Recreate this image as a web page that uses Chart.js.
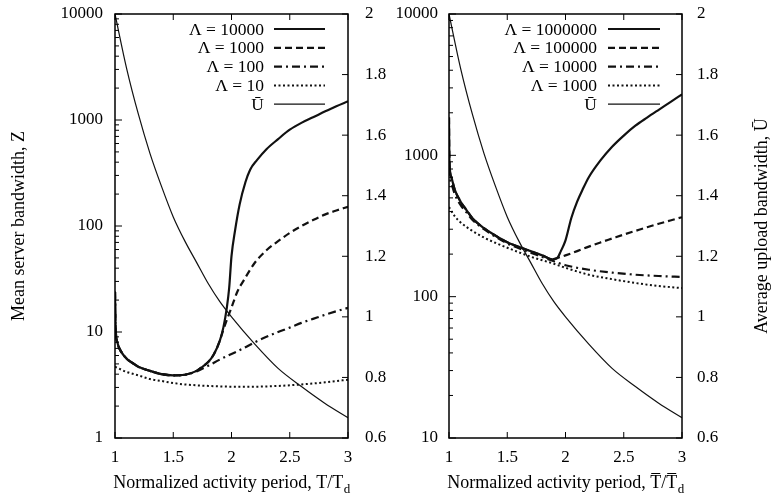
<!DOCTYPE html>
<html><head><meta charset="utf-8">
<script src="https://cdn.jsdelivr.net/npm/chart.js@4"></script>
<style>
html,body{margin:0;padding:0;background:#fff;}
#wrap{position:relative;width:772px;height:497px;overflow:hidden;}
canvas{position:absolute;top:0;}
</style></head>
<body><div id="wrap">
<canvas id="c1" width="400" height="497" style="left:0;width:400px;height:497px"></canvas>
<canvas id="c2" width="386" height="497" style="left:386px;width:386px;height:497px"></canvas>
</div>
<script>
// ---------- tick data ----------
const xTickValues = [1, 1.5, 2, 2.5, 3];
const leftDecades = [1, 10, 100, 1000, 10000];
const rightDecades = [10, 100, 1000, 10000];
const uTickValues = [0.6, 0.8, 1, 1.2, 1.4, 1.6, 1.8, 2];

// ---------- U-bar (average upload bandwidth), same in both panels ----------
const uBarX = [1, 1.1, 1.2, 1.3, 1.4, 1.5, 1.6, 1.7, 1.8, 1.9, 2.0, 2.2, 2.4, 2.6, 2.8, 3.0];
const uBar  = [2.0, 1.82, 1.67, 1.54, 1.43, 1.33, 1.25, 1.18, 1.11, 1.05, 1.0, 0.91, 0.83, 0.77, 0.715, 0.667];

// ---------- left panel: Z ----------
const leftLabels = ["Λ = 10000", "Λ = 1000", "Λ = 100", "Λ = 10"];
const lA_x = [1.0, 1.004, 1.02, 1.05, 1.1, 1.15, 1.2, 1.3, 1.4, 1.5, 1.6, 1.7, 1.75, 1.8, 1.85, 1.9, 1.93, 1.96, 1.98, 2.0, 2.03, 2.07, 2.12, 2.16, 2.22, 2.3, 2.4, 2.5, 2.6, 2.7, 2.8, 2.9, 3.0];
const lA_z = [24, 12, 8.0, 6.6, 5.6, 5.1, 4.7, 4.3, 4.0, 3.9, 3.95, 4.3, 4.7, 5.2, 6.2, 8.3, 11, 17, 26, 52, 90, 160, 260, 340, 420, 530, 660, 810, 940, 1060, 1200, 1350, 1500];
const lB_x = [1.0, 1.004, 1.02, 1.05, 1.1, 1.15, 1.2, 1.3, 1.4, 1.5, 1.6, 1.7, 1.75, 1.8, 1.85, 1.9, 1.93, 1.96, 2.0, 2.05, 2.1, 2.2, 2.3, 2.4, 2.5, 2.6, 2.7, 2.8, 2.9, 3.0];
const lB_z = [24, 12, 8.0, 6.6, 5.6, 5.1, 4.7, 4.3, 4.0, 3.9, 3.95, 4.3, 4.7, 5.2, 6.2, 8.3, 10.5, 13, 17, 24, 30, 45, 59, 72, 86, 100, 114, 128, 140, 152];
const lC_x = [1.0, 1.004, 1.02, 1.05, 1.1, 1.15, 1.2, 1.3, 1.4, 1.5, 1.6, 1.7, 1.8, 1.9, 2.0, 2.1, 2.2, 2.3, 2.4, 2.5, 2.6, 2.7, 2.8, 2.9, 3.0];
const lC_z = [24, 12, 8.0, 6.6, 5.6, 5.1, 4.7, 4.3, 4.0, 3.9, 3.95, 4.25, 4.8, 5.5, 6.2, 7.0, 8.0, 9.0, 10.0, 11.0, 12.2, 13.3, 14.5, 15.7, 16.9];
const lD_x = [1.0, 1.1, 1.2, 1.3, 1.4, 1.5, 1.6, 1.8, 2.0, 2.2, 2.4, 2.6, 2.8, 3.0];
const lD_z = [4.7, 4.2, 3.9, 3.6, 3.45, 3.3, 3.2, 3.1, 3.05, 3.05, 3.1, 3.2, 3.35, 3.55];

// ---------- right panel: Z ----------
const rightLabels = ["Λ = 1000000", "Λ = 100000", "Λ = 10000", "Λ = 1000"];
const rA_x = [1.0, 1.003, 1.02, 1.05, 1.1, 1.15, 1.2, 1.3, 1.4, 1.5, 1.6, 1.7, 1.8, 1.89, 1.93, 1.96, 2.0, 2.05, 2.1, 2.15, 2.2, 2.3, 2.4, 2.5, 2.6, 2.7, 2.8, 2.9, 3.0];
const rA_z = [1850, 950, 700, 570, 470, 410, 360, 305, 270, 243, 225, 210, 196, 184, 188, 210, 250, 360, 470, 580, 700, 920, 1150, 1380, 1620, 1850, 2100, 2380, 2700];
const rB_x = [1.0, 1.003, 1.02, 1.05, 1.1, 1.15, 1.2, 1.3, 1.4, 1.5, 1.6, 1.7, 1.8, 1.89, 1.95, 2.0, 2.1, 2.2, 2.3, 2.4, 2.5, 2.6, 2.7, 2.8, 2.9, 3.0];
const rB_z = [1850, 950, 700, 570, 470, 410, 360, 305, 270, 243, 225, 210, 196, 184, 190, 196, 210, 226, 242, 258, 275, 292, 310, 328, 346, 365];
const rC_x = [1.0, 1.003, 1.02, 1.05, 1.1, 1.15, 1.2, 1.3, 1.4, 1.5, 1.6, 1.7, 1.8, 1.9, 2.0, 2.2, 2.4, 2.6, 2.8, 3.0];
const rC_z = [1100, 800, 640, 530, 445, 395, 350, 300, 265, 238, 220, 205, 191, 178, 167, 155, 148, 143, 140, 138];
const rD_x = [1.0, 1.05, 1.1, 1.2, 1.3, 1.4, 1.5, 1.6, 1.7, 1.8, 1.9, 2.0, 2.2, 2.4, 2.6, 2.8, 3.0];
const rD_z = [430, 370, 335, 292, 262, 240, 222, 206, 192, 181, 171, 160, 143, 133, 125, 119, 115];

// ---------- helpers ----------
const FONT = '"Liberation Serif", "Times New Roman", serif';
const pts = (xs, ys) => xs.map((x, i) => ({x, y: ys[i]}));
function logTicks(decs) {
  const out = [];
  for (let i = 0; i < decs.length; i++) {
    out.push({value: decs[i]});
    if (i < decs.length - 1) for (let m = 2; m <= 9; m++) out.push({value: decs[i] * m});
  }
  return out;
}
const styles = [
  {borderWidth: 2.2, borderDash: []},
  {borderWidth: 2.2, borderDash: [7, 4]},
  {borderWidth: 2.2, borderDash: [8, 4, 2, 4]},
  {borderWidth: 2.0, borderDash: [2, 2.5]},
  {borderWidth: 1.2, borderDash: []}
];
function ds(label, data, st, axis) {
  return {label, data, borderColor: '#111', backgroundColor: '#111', borderWidth: st.borderWidth,
    borderDash: st.borderDash, pointRadius: 0, fill: false, cubicInterpolationMode: 'monotone', yAxisID: axis};
}
function zeroPad(s) { s.paddingTop = 0; s.paddingBottom = 0; s.paddingLeft = 0; s.paddingRight = 0; }

const deco = {
  id: 'deco',
  afterDatasetsDraw(chart, args, o) {
    const {ctx, chartArea: a, scales} = chart;
    ctx.save();
    ctx.strokeStyle = '#000';
    ctx.lineWidth = 1;
    const ln = (x1, y1, x2, y2) => { ctx.beginPath(); ctx.moveTo(x1, y1); ctx.lineTo(x2, y2); ctx.stroke(); };
    scales.x.ticks.forEach(t => { const p = scales.x.getPixelForValue(t.value); ln(p, a.bottom, p, a.bottom - 6); ln(p, a.top, p, a.top + 6); });
    scales.y.ticks.forEach(t => { const p = scales.y.getPixelForValue(t.value); const maj = o.decades.includes(t.value); ln(a.left, p, a.left + (maj ? 7 : 4), p); });
    scales.yU.ticks.forEach(t => { const p = scales.yU.getPixelForValue(t.value); ln(a.right, p, a.right - 6, p); });
    ctx.lineWidth = 1.5;
    ctx.strokeRect(a.left, a.top, a.right - a.left, a.bottom - a.top);

    // legend
    ctx.fillStyle = '#000';
    ctx.font = '17.5px ' + FONT;
    ctx.textAlign = 'right';
    ctx.textBaseline = 'middle';
    chart.data.datasets.forEach((d, i) => {
      const y = o.legY0 + i * o.legDy;
      ctx.fillText(d.label, o.legText, y + 1);
      ctx.save();
      ctx.strokeStyle = '#111';
      ctx.lineWidth = d.borderWidth;
      ctx.setLineDash(d.borderDash);
      ln(o.legX1, y, o.legX2, y);
      ctx.restore();
    });

    // x title with subscript
    const cx = (a.left + a.right) / 2;
    const main = 'Normalized activity period, T/T';
    ctx.font = '18px ' + FONT;
    const wMain = ctx.measureText(main).width;
    const wPre = ctx.measureText('Normalized activity period, ').width;
    const wT = ctx.measureText('T').width;
    const wS = ctx.measureText('/').width;
    ctx.font = '13px ' + FONT;
    const wSub = ctx.measureText('d').width;
    const x0 = cx - (wMain + wSub) / 2;
    const base = 488;
    ctx.textAlign = 'left';
    ctx.textBaseline = 'alphabetic';
    ctx.font = '18px ' + FONT;
    ctx.fillText(main, x0, base);
    ctx.font = '13px ' + FONT;
    ctx.fillText('d', x0 + wMain + 0.5, base + 5);
    if (o.overline) {
      ctx.lineWidth = 1;
      const oy = base - 14.5;
      ln(x0 + wPre + 1, oy, x0 + wPre + wT - 1, oy);
      ln(x0 + wPre + wT + wS + 1, oy, x0 + wPre + 2 * wT + wS - 1, oy);
    }

    // y title (rotated)
    ctx.save();
    ctx.translate(o.yTitleX, (a.top + a.bottom) / 2);
    ctx.rotate(-Math.PI / 2);
    ctx.font = '18px ' + FONT;
    ctx.textAlign = 'center';
    ctx.textBaseline = 'middle';
    ctx.fillText(o.yTitle, 0, 0);
    ctx.restore();
    ctx.restore();
  }
};

function makeChart(id, sets, decades, yMin, yMax, leftW, rightW, leftPad, rightPad, decoOpts) {
  const tickFont = {family: FONT, size: 17};
  return new Chart(document.getElementById(id), {
    type: 'line',
    data: {datasets: sets},
    plugins: [deco],
    options: {
      responsive: false, animation: false, devicePixelRatio: 1,
      layout: {padding: {top: 14, left: 0, right: 0, bottom: 0}},
      plugins: {legend: {display: false}, tooltip: {enabled: false}, deco: decoOpts},
      scales: {
        x: {type: 'linear', min: 1, max: 3,
          afterBuildTicks: s => { s.ticks = xTickValues.map(v => ({value: v})); },
          afterFit: s => { s.height = 59; zeroPad(s); },
          ticks: {font: tickFont, color: '#000', padding: 9, maxRotation: 0, autoSkip: false, callback: v => String(v)},
          grid: {display: false, drawTicks: false}, border: {display: false}},
        y: {type: 'logarithmic', position: 'left', min: yMin, max: yMax,
          afterBuildTicks: s => { s.ticks = logTicks(decades); },
          afterFit: s => { s.width = leftW; zeroPad(s); },
          ticks: {font: tickFont, color: '#000', padding: leftPad, autoSkip: false, callback: v => decades.includes(v) ? String(v) : ''},
          grid: {display: false, drawTicks: false}, border: {display: false}},
        yU: {type: 'linear', position: 'right', min: 0.6, max: 2,
          afterBuildTicks: s => { s.ticks = uTickValues.map(v => ({value: v})); },
          afterFit: s => { s.width = rightW; zeroPad(s); },
          ticks: {font: tickFont, color: '#000', padding: rightPad, autoSkip: false, callback: v => String(Number(v.toFixed(1)))},
          grid: {display: false, drawTicks: false}, border: {display: false}}
      }
    }
  });
}

const leftSets = [
  ds(leftLabels[0], pts(lA_x, lA_z), styles[0], 'y'),
  ds(leftLabels[1], pts(lB_x, lB_z), styles[1], 'y'),
  ds(leftLabels[2], pts(lC_x, lC_z), styles[2], 'y'),
  ds(leftLabels[3], pts(lD_x, lD_z), styles[3], 'y'),
  ds('Ū', pts(uBarX, uBar), styles[4], 'yU')
];
const rightSets = [
  ds(rightLabels[0], pts(rA_x, rA_z), styles[0], 'y'),
  ds(rightLabels[1], pts(rB_x, rB_z), styles[1], 'y'),
  ds(rightLabels[2], pts(rC_x, rC_z), styles[2], 'y'),
  ds(rightLabels[3], pts(rD_x, rD_z), styles[3], 'y'),
  ds('Ū', pts(uBarX, uBar), styles[4], 'yU')
];

makeChart('c1', leftSets, leftDecades, 1, 10000, 115, 52, 12, 17,
  {decades: leftDecades, legText: 264, legX1: 274, legX2: 325, legY0: 29, legDy: 18.8,
   overline: false, yTitle: 'Mean server bandwidth, Z', yTitleX: 19});
makeChart('c2', rightSets, rightDecades, 10, 10000, 63, 90, 11, 15,
  {decades: rightDecades, legText: 597 - 386, legX1: 608 - 386, legX2: 660 - 386, legY0: 29, legDy: 18.8,
   overline: true, yTitle: 'Average upload bandwidth, Ū', yTitleX: 376});
</script>
</body></html>
